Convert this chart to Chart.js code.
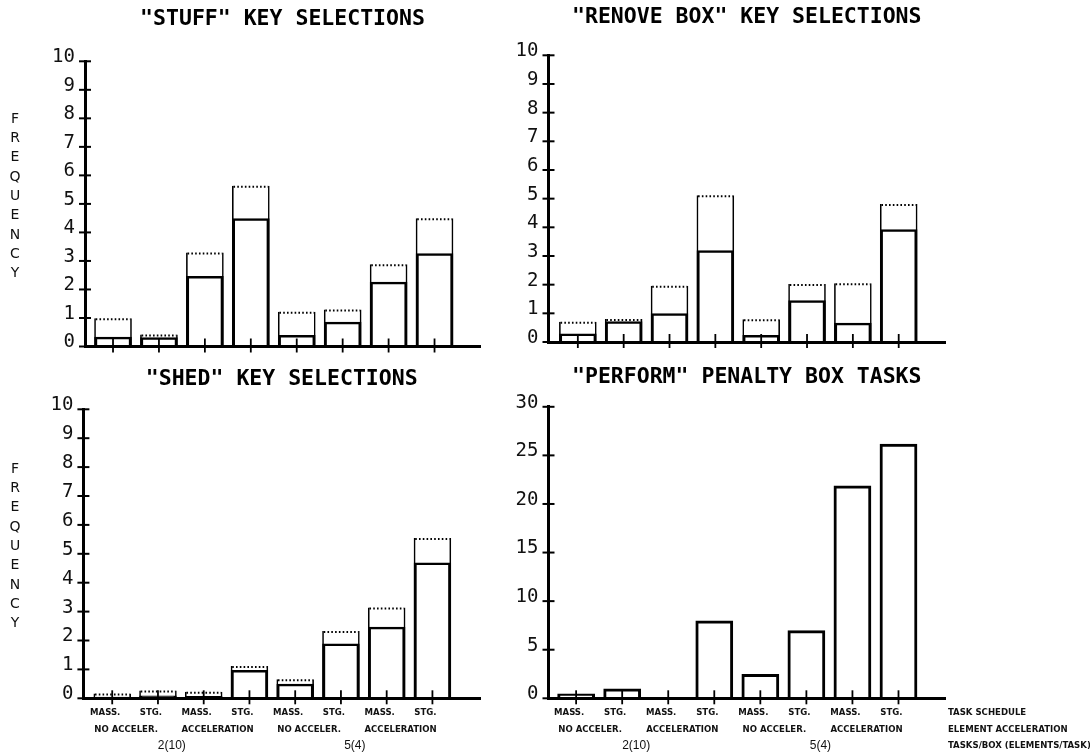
<!DOCTYPE html>
<html><head><meta charset="utf-8">
<script src="https://cdn.jsdelivr.net/npm/chart.js@4"></script>
<style>
html,body{margin:0;padding:0;background:#fff;width:1090px;height:753px;overflow:hidden;}
canvas{position:absolute;}
</style></head><body>
<canvas id="c1" width="545" height="370" style="left:0;top:0"></canvas>
<canvas id="c2" width="620" height="370" style="left:470px;top:0"></canvas>
<canvas id="c3" width="545" height="393" style="left:0;top:360px"></canvas>
<canvas id="c4" width="620" height="393" style="left:470px;top:360px"></canvas>
<script>
// ---------------- data ----------------
const categories = ['2(10) NO ACCELER. MASS.','2(10) NO ACCELER. STG.','2(10) ACCELERATION MASS.','2(10) ACCELERATION STG.',
                    '5(4) NO ACCELER. MASS.','5(4) NO ACCELER. STG.','5(4) ACCELERATION MASS.','5(4) ACCELERATION STG.'];
const scheduleLabels = ['MASS.','STG.','MASS.','STG.','MASS.','STG.','MASS.','STG.'];
const accelLabels = ['NO ACCELER.','ACCELERATION','NO ACCELER.','ACCELERATION'];
const tasksLabels = ['2(10)','5(4)'];
const legendLabels = ['TASK SCHEDULE','ELEMENT ACCELERATION','TASKS/BOX (ELEMENTS/TASK)'];
const freqTicks = [0,1,2,3,4,5,6,7,8,9,10];
const taskTicks = [0,5,10,15,20,25,30];
const titles = ['"STUFF" KEY SELECTIONS','"RENOVE BOX" KEY SELECTIONS','"SHED" KEY SELECTIONS','"PERFORM" PENALTY BOX TASKS'];
const yLabel = 'FREQUENCY';

const stuffTotal  = [0.99,0.42,3.30,5.64,1.22,1.30,2.88,4.50];
const stuffSolid  = [0.34,0.32,2.47,4.50,0.40,0.87,2.27,3.27];
const removeTotal = [0.71,0.80,1.96,5.12,0.79,2.02,2.05,4.81];
const removeSolid = [0.30,0.72,1.00,3.20,0.24,1.46,0.67,3.93];
const shedTotal   = [0.17,0.27,0.23,1.12,0.66,2.33,3.14,5.55];
const shedSolid   = [0.05,0.10,0.08,0.98,0.50,1.90,2.48,4.70];
const performTasks= [0.5,1.0,0,8.0,2.5,7.0,21.9,26.2];

// ---------------- helpers ----------------
const pos = categories.map((_, i) => i + 1);
const accelPos = accelLabels.map((_, i) => 2 * i + 1.5);
const taskPos = tasksLabels.map((_, i) => 4 * i + 2.5);
const pts = vals => vals.map((v, i) => ({x: pos[i], y: v}));

const NARROW = '"DejaVu Sans Condensed","Liberation Sans Narrow","Arial Narrow","Liberation Sans",sans-serif';
const MONO = '"DejaVu Sans Mono",monospace';

function barSet(vals, bw, dotted) {
  return {
    type: 'bar', data: pts(vals), backgroundColor: 'rgba(0,0,0,0)', borderColor: '#000',
    borderWidth: bw, borderSkipped: 'start', grouped: false, inflateAmount: 0,
    categoryPercentage: 1, barPercentage: 0.82, dottedTop: dotted
  };
}

const decor = {
  id: 'decor',
  afterDatasetsDraw(chart) {
    const ctx = chart.ctx, xs = chart.scales.x, ys = chart.scales.y;
    ctx.save();
    ctx.strokeStyle = '#000';
    ctx.lineWidth = 2;
    ys.ticks.forEach((t, i) => {
      const py = ys.getPixelForTick(i);
      ctx.beginPath(); ctx.moveTo(xs.left - 6, py); ctx.lineTo(xs.left + 6, py); ctx.stroke();
    });
    ctx.lineWidth = 1.8;
    xs.ticks.forEach((t, i) => {
      const px = xs.getPixelForTick(i);
      ctx.beginPath(); ctx.moveTo(px, ys.bottom - 8); ctx.lineTo(px, ys.bottom + 6); ctx.stroke();
    });
    chart.data.datasets.forEach((ds, di) => {
      if (!ds.dottedTop) return;
      ctx.setLineDash([1.6, 2.2]); ctx.lineWidth = 2;
      chart.getDatasetMeta(di).data.forEach(el => {
        const p = el.getProps(['x', 'y', 'width'], true);
        ctx.beginPath(); ctx.moveTo(p.x - p.width / 2 + 1.5, p.y + 1); ctx.lineTo(p.x + p.width / 2 - 1.5, p.y + 1); ctx.stroke();
      });
      ctx.setLineDash([]);
    });
    ctx.restore();
  },
  afterDraw(chart, args, o) {
    const ctx = chart.ctx, ca = chart.chartArea;
    ctx.save(); ctx.fillStyle = '#111';
    if (o.stacked) {
      ctx.font = o.stacked.font; ctx.textAlign = 'center'; ctx.textBaseline = 'middle';
      const letters = [...o.stacked.text];
      const cy = (ca.top + ca.bottom) / 2 + o.stacked.dy;
      letters.forEach((ch, i) => ctx.fillText(ch, o.stacked.x, cy + (i - (letters.length - 1) / 2) * o.stacked.pitch));
    }
    if (o.side) {
      ctx.textAlign = 'left'; ctx.textBaseline = 'middle';
      ['x', 'x2', 'x3'].forEach((id, k) => {
        const sc = chart.scales[id];
        const f = Chart.helpers.toFont(sc.options.ticks.font);
        const y = sc.top + sc.options.ticks.padding + f.lineHeight / 2;
        ctx.font = o.side.font;
        ctx.fillText(o.side.text[k], ca.right + o.side.dx, y);
      });
    }
    ctx.restore();
  }
};

function makeChart(id, cfg) {
  const xBase = {type: 'linear', min: cfg.xmin, max: cfg.xmax, offset: false, position: 'bottom'};
  const scales = {
    x: Object.assign({}, xBase, {
      weight: 0,
      afterBuildTicks: sc => { sc.ticks = pos.map(v => ({value: v})); },
      afterFit: sc => { sc.height = cfg.labels ? 22 : 12; },
      grid: {display: false, drawTicks: false, offset: false},
      border: {display: true, width: 3, color: '#000'},
      ticks: {display: !!cfg.labels, autoSkip: false, maxRotation: 0, padding: 9, labelOffset: -7, color: '#111',
              font: {family: NARROW, size: 9.5, weight: 'bold'}, callback: (v, i) => scheduleLabels[i]}
    }),
    y: {
      min: 0, max: cfg.ymax,
      afterBuildTicks: sc => { sc.ticks = cfg.yticks.map(v => ({value: v})); },
      afterFit: sc => { sc.width = 50; },
      grid: {display: false, drawTicks: false},
      border: {display: true, width: 3, color: '#000'},
      ticks: {padding: 10, labelOffset: -4, color: '#111', font: {family: MONO, size: 19}}
    }
  };
  if (cfg.labels) {
    scales.x2 = Object.assign({}, xBase, {
      weight: 1,
      afterBuildTicks: sc => { sc.ticks = accelPos.map(v => ({value: v})); },
      afterFit: sc => { sc.height = 15; },
      grid: {display: false, drawTicks: false, offset: false}, border: {display: false},
      ticks: {autoSkip: false, maxRotation: 0, padding: 3.7, labelOffset: -9, color: '#111',
              font: {family: NARROW, size: 9.5, weight: 'bold'}, callback: (v, i) => accelLabels[i]}
    });
    scales.x3 = Object.assign({}, xBase, {
      weight: 2,
      afterBuildTicks: sc => { sc.ticks = taskPos.map(v => ({value: v})); },
      afterFit: sc => { sc.height = 17.7; },
      grid: {display: false, drawTicks: false, offset: false}, border: {display: false},
      ticks: {autoSkip: false, maxRotation: 0, padding: 3.5, labelOffset: -9, color: '#111',
              font: {family: '"Liberation Sans",sans-serif', size: 12}, callback: (v, i) => tasksLabels[i]}
    });
  }
  return new Chart(document.getElementById(id), {
    type: 'bar',
    data: {datasets: cfg.datasets},
    options: {
      responsive: false, animation: false, events: [],
      layout: {padding: cfg.padding},
      scales,
      plugins: {
        legend: {display: false}, tooltip: {enabled: false},
        title: {display: true, text: cfg.title, fullSize: false, color: '#000',
                font: {family: MONO, size: 21.5, weight: 'bold'}, padding: cfg.titlePad},
        decor: {stacked: cfg.stacked, side: cfg.side}
      }
    },
    plugins: [decor]
  });
}

const stackedFreq = {text: yLabel, font: '14px "DejaVu Sans",sans-serif', x: 15, dy: -7.5, pitch: 19.3};

makeChart('c1', {
  title: titles[0], ymax: 10, yticks: freqTicks, labels: false, xmin: 0.39, xmax: 8.99,
  padding: {left: 35, right: 65, top: 0, bottom: 11.5}, titlePad: {top: 7, bottom: 28.5},
  stacked: stackedFreq,
  datasets: [barSet(stuffSolid, {top: 2.5, left: 3, right: 3, bottom: 0}, false),
             barSet(stuffTotal, {top: 0, left: 1.6, right: 1.6, bottom: 0}, true)]
});
makeChart('c2', {
  title: titles[1], ymax: 10, yticks: freqTicks, labels: false, xmin: 0.36, xmax: 9.01,
  padding: {left: 28.5, right: 145, top: 0, bottom: 16}, titlePad: {top: 5, bottom: 24.5},
  datasets: [barSet(removeSolid, {top: 2.5, left: 3, right: 3, bottom: 0}, false),
             barSet(removeTotal, {top: 0, left: 1.6, right: 1.6, bottom: 0}, true)]
});
makeChart('c3', {
  title: titles[2], ymax: 10, yticks: freqTicks, labels: true, xmin: 0.37, xmax: 9.04,
  padding: {left: 33.4, right: 65, top: 0, bottom: 0}, titlePad: {top: 7, bottom: 16.5},
  stacked: stackedFreq,
  datasets: [barSet(shedSolid, {top: 2.5, left: 3, right: 3, bottom: 0}, false),
             barSet(shedTotal, {top: 0, left: 1.6, right: 1.6, bottom: 0}, true)]
});
makeChart('c4', {
  title: titles[3], ymax: 30, yticks: taskTicks, labels: true, xmin: 0.4, xmax: 9.01,
  padding: {left: 28.5, right: 145, top: 0, bottom: 0}, titlePad: {top: 5, bottom: 16},
  side: {text: legendLabels, font: 'bold 9.5px ' + NARROW, dx: 3},
  datasets: [barSet(performTasks, {top: 3, left: 3, right: 3, bottom: 0}, false)]
});
</script>
</body></html>
